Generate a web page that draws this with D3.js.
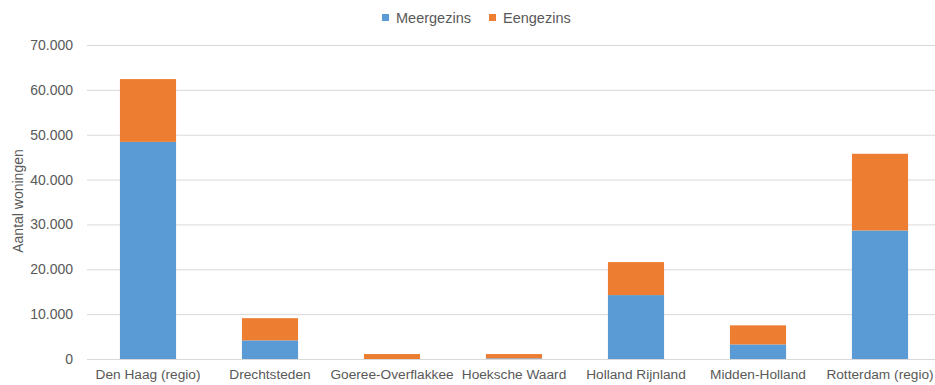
<!DOCTYPE html>
<html>
<head>
<meta charset="utf-8">
<script src="https://cdn.jsdelivr.net/npm/d3@7"></script>
<style>
  html, body { margin: 0; padding: 0; background: #fff; }
  svg { display: block; font-family: "Liberation Sans", Arial, sans-serif; }
</style>
</head>
<body>
<svg id="chart" width="935" height="385"></svg>
<script>
// Regions and housing counts per type
const regions = ["Den Haag (regio)", "Drechtsteden", "Goeree-Overflakkee", "Hoeksche Waard", "Holland Rijnland", "Midden-Holland", "Rotterdam (regio)"];
const meergezins = [48400, 4150, 0, 150, 14250, 3250, 28650];
const eengezins  = [14000, 4950, 1100, 950, 7350, 4250, 17100];
const seriesNames = ["Meergezins", "Eengezins"];
const seriesColors = ["#5B9BD5", "#ED7D31"];
const yTicks = [0, 10000, 20000, 30000, 40000, 50000, 60000, 70000];

const svg = d3.select("#chart");
const margin = { left: 87, top: 45, bottom: 26 };
const width = 854;
const height = 385 - margin.top - margin.bottom;

const rows = regions.map((r, i) => ({ region: r, Meergezins: meergezins[i], Eengezins: eengezins[i] }));
const stack = d3.stack().keys(seriesNames)(rows);

const x = d3.scaleBand().domain(regions).range([margin.left, margin.left + width]).paddingInner(0.54).paddingOuter(0.27);
const y = d3.scaleLinear().domain([0, 70000]).range([margin.top + height, margin.top]);

const fmt = v => d3.format(",")(v).replace(/,/g, ".");

// Gridlines
svg.append("g")
  .selectAll("line")
  .data(yTicks)
  .join("line")
  .attr("x1", margin.left).attr("x2", margin.left + width)
  .attr("y1", d => y(d) + 0.5).attr("y2", d => y(d) + 0.5)
  .attr("stroke", "#d9d9d9").attr("stroke-width", 1);

// Y axis labels
const yAxis = svg.append("g")
  .attr("transform", `translate(${margin.left - 14},0)`)
  .call(d3.axisLeft(y).tickValues(yTicks).tickFormat(fmt).tickSize(0).tickPadding(0));
yAxis.select(".domain").remove();
yAxis.selectAll("text").attr("fill", "#595959").style("font-size", "14px");

// Stacked bars
svg.append("g")
  .selectAll("g")
  .data(stack)
  .join("g")
  .attr("fill", (d, i) => seriesColors[i])
  .selectAll("rect")
  .data(d => d)
  .join("rect")
  .attr("x", d => x(d.data.region))
  .attr("width", x.bandwidth())
  .attr("y", d => y(d[1]))
  .attr("height", d => y(d[0]) - y(d[1]));

// X axis labels
const xAxis = svg.append("g")
  .attr("transform", `translate(0,${margin.top + height + 10})`)
  .call(d3.axisBottom(x).tickSize(0).tickPadding(0));
xAxis.select(".domain").remove();
xAxis.selectAll("text").attr("fill", "#595959").style("font-size", "13.7px");

// Y axis title
svg.append("text")
  .attr("transform", `translate(23,201) rotate(-90)`)
  .attr("text-anchor", "middle")
  .attr("fill", "#595959")
  .style("font-size", "14px")
  .text("Aantal woningen");

// Legend
const legendItems = [{ name: "Meergezins", x: 382 }, { name: "Eengezins", x: 489 }];
const legend = svg.append("g");
legendItems.forEach((item, i) => {
  legend.append("rect")
    .attr("x", item.x).attr("y", 14).attr("width", 7).attr("height", 7)
    .attr("fill", seriesColors[i]);
  legend.append("text")
    .attr("x", item.x + 14).attr("y", 23)
    .attr("fill", "#595959")
    .style("font-size", "14.5px")
    .text(item.name);
});
</script>
</body>
</html>
